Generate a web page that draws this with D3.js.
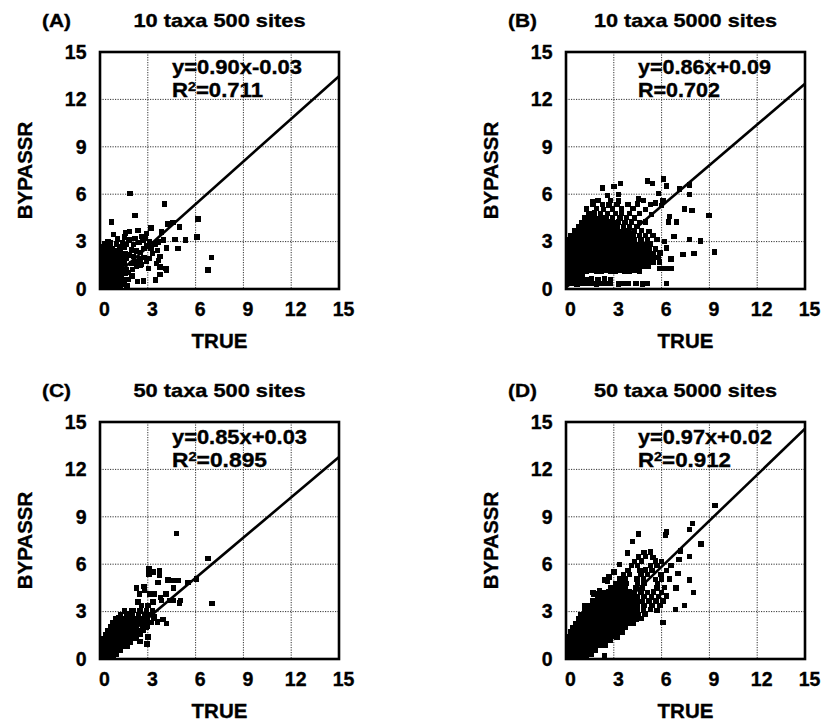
<!DOCTYPE html>
<html>
<head>
<meta charset="utf-8">
<script src="https://cdn.jsdelivr.net/npm/d3@7"></script>
<style>
  body { margin: 0; background: #fff; }
  svg { display: block; }
  text { font-family: "Liberation Sans", Arial, Helvetica, sans-serif; font-weight: bold; fill: #000; stroke: #000; stroke-width: 0.35px; }
</style>
</head>
<body>
<svg id="chart" width="821" height="724"></svg>
<script>
// ---- data -------------------------------------------------------------
const tickValues = [0, 3, 6, 9, 12, 15];
const gridValues = [3, 6, 9, 12];
const panelLetters = ["(A)", "(B)", "(C)", "(D)"];
const panelTitles = ["10 taxa 500 sites", "10 taxa 5000 sites", "50 taxa 500 sites", "50 taxa 5000 sites"];
const slopes = [0.90, 0.86, 0.85, 0.97];
const intercepts = [-0.03, 0.09, 0.03, 0.02];
const equationLabels = ["y=0.90x-0.03", "y=0.86x+0.09", "y=0.85x+0.03", "y=0.97x+0.02"];
const fitSymbols = ["R", "R", "R", "R"];
const fitPowers = ["2", "", "2", "2"];
const fitValues = ["0.711", "0.702", "0.895", "0.912"];
const xTitle = "TRUE";
const yTitle = "BYPASSR";

// (TRUE, BYPASSR) pairs, one list per panel
const pointsA = [
  [0.05,0.08],[0.25,0.04],[0.45,0.12],[0.65,0.05],[0.85,0.15],[1.05,0.08],[1.3,0.15],[1.55,0.3],
  [0.2,0.2],[0.6,0.25],[1.0,0.25],[0.4,0.5],[0.8,0.55],[1.25,0.5],[0.2,0.82],[0.6,0.85],[0.95,0.78],[1.2,0.9],
  [0.35,1.08],[0.8,1.05],[1.4,1.05],[0.2,1.62],[0.7,1.6],[1.2,1.5],[0.3,1.88],[0.85,1.85],[0.2,2.15],[0.75,2.12],
  [1.0,2.45],[0.45,2.5],[0.2,2.45],[0.65,2.9],[0.3,2.85],[1.3,2.7],[1.45,1.0],[1.5,0.6],[1.2,0.72],
  [0.12,0.35],[0.32,0.4],[0.52,0.32],[0.72,0.45],[0.95,0.4],[1.15,0.33],
  [0.05,0.62],[0.25,0.7],[0.45,0.6],[0.65,0.75],[0.85,0.66],[1.1,0.6],[1.35,0.82],
  [0.1,0.92],[0.35,0.96],[0.55,0.9],[0.75,1.0],[1.0,0.92],[1.58,0.98],
  [0.05,1.18],[0.25,1.22],[0.5,1.2],[0.7,1.26],[0.92,1.16],[1.2,1.12],[1.62,1.22],
  [0.15,1.46],[0.4,1.5],[0.62,1.45],[0.86,1.42],[1.1,1.36],[1.36,1.32],
  [0.05,1.76],[0.3,1.72],[0.55,1.76],[0.8,1.7],[1.05,1.66],[1.3,1.62],[1.52,1.6],
  [0.2,2.0],[0.45,2.02],[0.7,1.96],[0.95,1.95],[1.2,1.9],[1.45,1.86],[1.68,1.96],
  [0.1,2.3],[0.35,2.35],[0.6,2.26],[0.9,2.3],[1.12,2.2],[1.36,2.16],[1.6,2.26],[1.86,2.16],[2.1,2.06],
  [0.06,2.68],[0.3,2.6],[0.56,2.72],[0.8,2.56],[1.25,2.5],[1.5,2.62],[1.96,2.46],[2.3,2.4],[2.55,2.3],[2.76,2.56],[2.92,2.72],
  [1.05,2.86],[1.4,2.92],[1.66,2.8],[2.1,2.82],[2.45,2.96],[2.7,3.06],[2.86,3.22],[0.5,3.0],[1.82,3.1],[2.2,3.2],[2.6,3.32],[1.55,3.3],[1.1,3.16],
  [1.8,1.05],[2.05,1.25],[2.3,1.45],[2.0,1.6],[2.25,1.75],[2.5,1.9],[2.75,2.0],[1.75,0.6],[2.0,0.82],[2.6,1.55],[2.9,1.75],[3.1,1.92],
  [1.7,0.2],[2.37,0.47],[2.72,0.5],[3.49,0.57],[3.03,1.3],[2.5,1.51],[3.56,1.63],[3.77,2.05],[3.77,0.93],[4.14,1.3],[3.77,1.4],
  [3.3,2.25],[3.6,2.42],[3.2,2.6],[3.45,2.86],
  [1.88,6.05],[0.73,4.23],[2.2,4.64],[4.04,5.38],[0.84,3.44],[1.6,3.55],[1.86,3.65],[2.38,3.7],[2.9,3.5],[3.85,3.6],
  [4.27,4.12],[4.58,4.22],[5.0,3.92],[6.15,4.43],[6.1,3.3],[4.7,3.12],[5.36,3.1],[4.9,2.55],[4.16,2.6],[3.64,2.97],
  [6.99,1.99],[6.78,1.19],[4.16,1.2],[3.66,1.81],[3.1,3.0],[4.0,3.1],[3.2,3.85]
];

const pointsB = [
  [0.1,0.33],[0.4,0.35],[0.7,0.32],[1.0,0.34],[1.3,0.33],[1.6,0.35],[1.9,0.32],[2.2,0.34],[2.5,0.33],[2.8,0.35],[3.3,0.32],[3.6,0.34],[3.9,0.33],[4.4,0.35],[4.8,0.32],[5.1,0.34],
  [0.1,0.62],[0.4,0.64],[0.7,0.6],[1.0,0.63],[1.3,0.62],[1.6,0.65],[2.0,0.62],[2.4,0.64],[2.8,0.61],
  [0.1,0.9],[0.4,0.88],[0.7,0.92],[1.0,0.9],
  [0.1,1.15],[0.4,1.17],[0.7,1.13],[1.0,1.16],[1.3,1.14],[1.6,1.18],[1.9,1.15],[2.2,1.13],[2.5,1.17],[2.8,1.15],[3.1,1.14],[3.4,1.18],[3.7,1.15],[4.0,1.13],[4.3,1.17],[4.6,1.15],
  [5.9,1.28],[6.25,1.3],[6.6,1.28],
  [0.05,1.42],[0.35,1.44],[0.65,1.4],[0.95,1.43],[1.25,1.42],[1.55,1.45],[1.85,1.41],[2.15,1.43],[2.45,1.42],[2.75,1.44],[3.05,1.4],[3.35,1.43],[3.65,1.42],[3.95,1.45],[4.25,1.41],[4.55,1.43],[4.85,1.42],[5.15,1.44],
  [0.1,1.7],[0.4,1.72],[0.7,1.68],[1.0,1.71],[1.3,1.7],[1.6,1.73],[1.9,1.69],[2.2,1.71],[2.5,1.7],[2.8,1.72],[3.1,1.68],[3.4,1.71],[3.7,1.7],[4.0,1.73],[4.3,1.69],[4.6,1.71],[4.9,1.7],[5.2,1.72],[5.5,1.68],[5.85,1.71],
  [0.05,1.98],[0.35,2.0],[0.65,1.96],[0.95,1.99],[1.25,1.98],[1.55,2.01],[1.85,1.97],[2.15,1.99],[2.45,1.98],[2.75,2.0],[3.05,1.96],[3.35,1.99],[3.65,1.98],[3.95,2.01],[4.25,1.97],[4.55,1.99],[4.85,1.98],[5.15,2.0],[5.45,1.96],[5.8,1.99],
  [0.1,2.26],[0.4,2.28],[0.7,2.24],[1.0,2.27],[1.3,2.26],[1.6,2.29],[1.9,2.25],[2.2,2.27],[2.5,2.26],[2.8,2.28],[3.1,2.24],[3.4,2.27],[3.7,2.26],[4.0,2.29],[4.3,2.25],[4.6,2.27],[4.9,2.26],[5.2,2.28],[5.5,2.24],[5.9,2.27],
  [0.05,2.54],[0.35,2.56],[0.65,2.52],[0.95,2.55],[1.25,2.54],[1.55,2.57],[1.85,2.53],[2.15,2.55],[2.45,2.54],[2.75,2.56],[3.05,2.52],[3.35,2.55],[3.65,2.54],[3.95,2.57],[4.25,2.53],[4.55,2.55],[4.85,2.54],[5.2,2.56],[5.6,2.52],
  [0.1,2.82],[0.4,2.84],[0.7,2.8],[1.0,2.83],[1.3,2.82],[1.6,2.85],[1.9,2.81],[2.2,2.83],[2.5,2.82],[2.8,2.84],[3.1,2.8],[3.4,2.83],[3.7,2.82],[4.0,2.85],[4.3,2.81],[4.6,2.83],[4.95,2.82],[5.3,2.84],
  [0.05,3.1],[0.35,3.12],[0.65,3.08],[0.95,3.11],[1.25,3.1],[1.55,3.13],[1.85,3.09],[2.15,3.11],[2.45,3.1],[2.75,3.12],[3.05,3.08],[3.35,3.11],[3.65,3.1],[3.95,3.13],[4.3,3.09],[4.7,3.11],[5.1,3.1],[5.7,3.12],
  [0.3,3.38],[0.6,3.4],[0.9,3.36],[1.2,3.39],[1.5,3.38],[1.8,3.41],[2.1,3.37],[2.4,3.39],[2.7,3.38],[3.0,3.4],[3.3,3.36],[3.6,3.39],[3.9,3.38],[4.25,3.41],[4.6,3.37],[5.0,3.39],[5.45,3.38],
  [0.55,3.66],[0.85,3.68],[1.15,3.64],[1.45,3.67],[1.75,3.66],[2.05,3.69],[2.35,3.65],[2.65,3.67],[2.95,3.66],[3.25,3.68],[3.55,3.64],[3.9,3.67],[4.3,3.66],[4.75,3.69],[5.2,3.65],
  [0.8,3.94],[1.1,3.96],[1.4,3.92],[1.7,3.95],[2.0,3.94],[2.3,3.97],[2.6,3.93],[2.9,3.95],[3.25,3.94],[3.6,3.96],[4.0,3.92],[4.45,3.95],
  [1.0,4.22],[1.35,4.24],[1.65,4.2],[1.95,4.23],[2.25,4.22],[2.6,4.25],[2.95,4.21],[3.3,4.23],[3.7,4.22],[4.1,4.24],[4.6,4.2],[5.0,4.23],
  [1.2,4.5],[1.5,4.52],[1.85,4.48],[2.2,4.51],[2.55,4.5],[2.9,4.53],[3.4,4.49],[3.8,4.51],[4.3,4.5],
  [1.45,4.78],[1.8,4.8],[2.15,4.76],[2.6,4.79],[3.1,4.78],[3.5,4.81],[4.0,4.77],[4.6,4.79],[5.35,4.7],
  [1.3,5.06],[1.9,5.08],[2.35,5.04],[2.9,5.07],[3.5,5.06],[4.2,5.09],[5.0,5.05],
  [1.7,5.34],[2.3,5.36],[2.7,5.32],[3.2,5.35],[3.9,5.34],[4.5,5.37],[5.3,5.33],[5.6,5.45],
  [2.0,5.6],[2.8,5.62],[3.3,5.58],[4.54,5.69],[4.85,5.6],
  [2.3,6.38],[3.0,6.5],[3.43,6.67],[3.3,6.0],[5.13,6.84],[5.44,6.67],[6.11,6.95],[6.32,6.53],[5.8,6.05],[7.11,6.32],
  [7.74,6.57],[7.74,6.0],[7.43,5.07],[7.9,4.96],[8.98,4.65],[9.31,2.34],[8.45,3.03],[7.74,3.13],[8.03,2.24],[7.34,2.2],
  [6.78,3.33],[6.95,4.23],[6.43,4.23],[6.32,0.36],[6.1,5.58],[1.7,5.5],[6.0,5.3],[2.6,5.9],[6.3,2.6],[6.6,1.9],[6.2,3.0],[6.5,4.6]
];

const pointsC = [
  [0.05,0.05],[0.3,0.07],[0.55,0.04],[0.85,0.06],
  [0.05,0.3],[0.3,0.32],[0.55,0.28],[0.8,0.31],[1.05,0.3],
  [0.05,0.55],[0.3,0.57],[0.55,0.53],[0.8,0.56],[1.05,0.55],[1.3,0.57],
  [0.1,0.8],[0.35,0.82],[0.6,0.78],[0.85,0.81],[1.1,0.8],[1.4,0.82],[1.7,0.78],
  [0.1,1.05],[0.35,1.07],[0.6,1.03],[0.85,1.06],[1.1,1.05],[1.35,1.07],[1.6,1.03],[1.9,1.06],
  [0.15,1.3],[0.4,1.32],[0.65,1.28],[0.9,1.31],[1.15,1.3],[1.4,1.32],[1.7,1.28],[2.0,1.31],[2.3,1.3],
  [0.35,1.55],[0.6,1.57],[0.85,1.53],[1.1,1.56],[1.35,1.55],[1.6,1.57],[1.9,1.53],[2.2,1.56],[2.55,1.55],
  [0.5,1.8],[0.75,1.82],[1.0,1.78],[1.25,1.81],[1.5,1.8],[1.8,1.82],[2.1,1.78],[2.4,1.81],[2.7,1.8],
  [0.65,2.05],[0.9,2.07],[1.15,2.03],[1.4,2.06],[1.7,2.05],[2.0,2.07],[2.3,2.03],[2.65,2.06],[2.95,2.05],
  [0.8,2.3],[1.05,2.32],[1.3,2.28],[1.6,2.31],[1.9,2.3],[2.2,2.32],[2.5,2.28],[2.85,2.31],[3.2,2.3],
  [1.0,2.55],[1.3,2.57],[1.6,2.53],[1.9,2.56],[2.25,2.55],[2.6,2.57],[2.95,2.53],[3.4,2.56],
  [1.3,2.8],[1.65,2.82],[2.0,2.78],[2.4,2.81],[2.8,2.8],[3.15,2.82],
  [1.55,3.05],[2.0,3.07],[2.5,3.03],[2.9,3.06],[3.3,3.05],
  [4.79,7.93],[6.78,6.36],[7.03,3.5],[6.05,5.06],[5.52,4.85],[4.9,4.95],[4.58,4.98],[4.27,5.0],[3.74,5.58],[3.74,5.27],
  [3.64,4.85],[3.08,5.69],[3.08,5.38],[3.33,5.5],[2.28,4.5],[2.76,4.58],[2.8,4.33],[2.49,4.12],[3.12,4.12],[3.43,4.12],
  [4.14,4.12],[4.58,3.7],[5.0,3.54],[5.06,3.7],[4.37,3.7],[3.85,3.7],[3.33,3.6],[3.01,3.39],[2.6,3.39],[2.39,3.6],
  [2.07,3.08],[1.76,2.87],[1.34,2.55],[4.16,2.24],[3.95,2.49],[3.43,2.7],[3.01,1.4],[2.17,2.14],[2.39,2.45],[2.9,2.0],
  [3.6,2.35],[1.2,2.6],[0.6,1.55],[0.9,2.1],[3.8,3.9],[4.6,4.5],[2.95,0.95],[2.5,1.1]
];

const pointsD = [
  [0.05,0.05],[0.35,0.07],[0.65,0.04],[0.95,0.06],[1.25,0.05],
  [0.1,0.3],[0.4,0.32],[0.7,0.28],[1.0,0.31],[1.3,0.3],[1.6,0.32],[2.43,0.2],
  [0.05,0.58],[0.35,0.6],[0.65,0.56],[0.95,0.59],[1.25,0.58],[1.55,0.61],[1.85,0.57],
  [0.1,0.86],[0.4,0.88],[0.7,0.84],[1.0,0.87],[1.3,0.86],[1.6,0.89],[1.9,0.85],[2.2,0.87],[2.45,0.86],
  [0.05,1.14],[0.35,1.16],[0.65,1.12],[0.95,1.15],[1.25,1.14],[1.55,1.17],[1.85,1.13],[2.15,1.15],[2.45,1.14],[2.75,1.16],
  [0.2,1.42],[0.5,1.44],[0.8,1.4],[1.1,1.43],[1.4,1.42],[1.7,1.45],[2.0,1.41],[2.3,1.43],[2.6,1.42],[2.9,1.44],[3.2,1.4],
  [0.3,1.7],[0.6,1.72],[0.9,1.68],[1.2,1.71],[1.5,1.7],[1.8,1.73],[2.1,1.69],[2.4,1.71],[2.7,1.7],[3.0,1.72],[3.3,1.68],[3.55,1.71],
  [0.45,1.98],[0.75,2.0],[1.05,1.96],[1.35,1.99],[1.65,1.98],[1.95,2.01],[2.25,1.97],[2.55,1.99],[2.85,1.98],[3.15,2.0],[3.45,1.96],[3.75,1.99],
  [0.6,2.26],[0.9,2.28],[1.2,2.24],[1.5,2.27],[1.8,2.26],[2.1,2.29],[2.4,2.25],[2.7,2.27],[3.0,2.26],[3.3,2.28],[3.6,2.24],[3.9,2.27],[4.25,2.26],
  [0.8,2.54],[1.1,2.56],[1.4,2.52],[1.7,2.55],[2.0,2.54],[2.3,2.57],[2.6,2.53],[2.9,2.55],[3.2,2.54],[3.5,2.56],[3.8,2.52],[4.1,2.55],[4.4,2.54],[4.7,2.56],
  [0.95,2.82],[1.25,2.84],[1.55,2.8],[1.85,2.83],[2.15,2.82],[2.45,2.85],[2.75,2.81],[3.05,2.83],[3.35,2.82],[3.65,2.84],[3.95,2.8],[4.25,2.83],[4.55,2.82],[4.95,2.84],
  [1.2,3.1],[1.5,3.12],[1.8,3.08],[2.1,3.11],[2.4,3.1],[2.7,3.13],[3.0,3.09],[3.3,3.11],[3.6,3.1],[3.9,3.12],[4.2,3.08],[4.5,3.11],[4.85,3.1],[5.3,3.12],[5.7,3.08],
  [1.45,3.38],[1.75,3.4],[2.05,3.36],[2.35,3.39],[2.65,3.38],[2.95,3.41],[3.25,3.37],[3.55,3.39],[3.85,3.38],[4.15,3.4],[4.5,3.36],[4.9,3.39],[5.4,3.38],[5.9,3.4],
  [1.7,3.66],[2.0,3.68],[2.3,3.64],[2.6,3.67],[2.9,3.66],[3.2,3.69],[3.5,3.65],[3.8,3.67],[4.1,3.66],[4.45,3.68],[4.8,3.64],[5.2,3.67],[5.65,3.66],[6.1,3.68],
  [2.0,3.94],[2.3,3.96],[2.6,3.92],[2.9,3.95],[3.2,3.94],[3.5,3.97],[3.8,3.93],[4.15,3.95],[4.5,3.94],[4.9,3.96],[5.35,3.92],[5.8,3.95],[6.3,3.94],
  [2.4,4.22],[2.7,4.24],[3.0,4.2],[3.3,4.23],[3.6,4.22],[3.95,4.25],[4.3,4.21],[4.7,4.23],[5.1,4.22],[5.5,4.24],[6.0,4.2],
  [2.8,4.5],[3.1,4.52],[3.4,4.48],[3.7,4.51],[4.4,4.53],[4.8,4.49],[5.7,4.5],[6.2,4.52],
  [3.1,4.78],[3.45,4.8],[3.8,4.76],[4.5,4.78],[4.9,4.81],[5.75,4.79],
  [3.4,5.06],[3.75,5.08],[4.45,5.07],[4.85,5.06],[5.6,5.05],[6.0,5.07],[6.5,5.06],
  [3.6,5.34],[4.0,5.36],[4.7,5.35],[5.1,5.34],[5.95,5.33],
  [3.9,5.62],[4.65,5.6],[5.0,5.63],[5.4,5.62],[6.3,5.61],
  [4.1,5.9],[4.5,5.92],[5.3,5.91],[5.7,5.9],
  [4.3,6.18],[4.75,6.2],[5.6,6.19],[6.0,6.18],
  [4.55,6.46],[5.0,6.48],[5.45,6.44],
  [4.9,6.74],[5.3,6.76],
  [9.35,9.73],[7.95,8.56],[7.74,8.2],[8.47,7.27],[6.32,8.05],[6.26,7.84],[4.54,7.9],[4.19,7.44],[3.85,6.7],[3.34,6.0],
  [2.43,5.0],[1.7,4.2],[2.1,4.3],[7.74,6.5],[7.74,5.0],[8.0,4.2],[7.45,3.38],[6.86,3.12],[6.1,2.3],[7.1,6.3],
  [7.19,6.83],[7.04,5.4],[6.6,5.9],[6.32,4.0],[1.2,3.35],[2.7,5.2],[3.0,5.5],[6.9,4.5],[2.59,4.92],[1.76,4.12]
];

const panelPoints = [pointsA, pointsB, pointsC, pointsD];

// ---- layout -----------------------------------------------------------
const lefts = [100, 566, 100, 566];
const tops = [52, 52, 422, 422];
const W = 239, H = 237;
const markerSize = 5.4;
const titleWidths = [172, 183, 172, 183];
const equationWidths = [130, 133, 135, 134];
const fitWidths = [91, 82, 95, 93];

const svg = d3.select("#chart");
svg.append("rect").attr("width", 821).attr("height", 724).attr("fill", "#fff");

const x = d3.scaleLinear().domain([0, 15]).range([0, W]);
const y = d3.scaleLinear().domain([0, 15]).range([H, 0]);

panelPoints.forEach((pts, i) => {
  const g = svg.append("g").attr("transform", `translate(${lefts[i]},${tops[i]})`);

  const clipId = `clip${i}`;
  g.append("clipPath").attr("id", clipId)
    .append("rect").attr("width", W).attr("height", H);

  // dotted grid
  const grid = g.append("g").attr("stroke", "#333").attr("stroke-width", 1)
    .attr("stroke-dasharray", "1.2,1.3");
  grid.selectAll("line.v").data(gridValues).join("line").attr("class", "v")
    .attr("x1", d => x(d)).attr("x2", d => x(d)).attr("y1", 0).attr("y2", H);
  grid.selectAll("line.h").data(gridValues).join("line").attr("class", "h")
    .attr("y1", d => y(d)).attr("y2", d => y(d)).attr("x1", 0).attr("x2", W);

  // scatter markers
  g.append("g").attr("clip-path", `url(#${clipId})`)
    .attr("shape-rendering", "crispEdges")
    .selectAll("rect").data(pts).join("rect")
    .attr("x", d => x(d[0]) - markerSize / 2)
    .attr("y", d => y(d[1]) - markerSize / 2)
    .attr("width", markerSize).attr("height", markerSize)
    .attr("fill", "#000");

  // regression line
  const fit = [0, 15].map(v => [v, slopes[i] * v + intercepts[i]]);
  g.append("path").attr("clip-path", `url(#${clipId})`)
    .datum(fit)
    .attr("d", d3.line().x(d => x(d[0])).y(d => y(d[1])))
    .attr("fill", "none").attr("stroke", "#000").attr("stroke-width", 2.6);

  // frame
  g.append("rect").attr("width", W).attr("height", H)
    .attr("fill", "none").attr("stroke", "#000").attr("stroke-width", 2.6);

  // axes
  const yAxis = g.append("g")
    .call(d3.axisLeft(y).tickValues(tickValues).tickSize(0).tickPadding(13.5));
  const xAxis = g.append("g").attr("transform", `translate(0,${H})`)
    .call(d3.axisBottom(x).tickValues(tickValues).tickSize(0).tickPadding(13.5));
  [yAxis, xAxis].forEach(a => {
    a.select(".domain").remove();
    a.attr("font-size", 19.5).attr("font-family", null);
    a.selectAll("text").style("font-weight", "bold").attr("fill", "#000");
  });
  xAxis.selectAll("text").attr("dx", 4);

  // axis titles
  g.append("text").attr("x", W / 2).attr("y", H + 59)
    .attr("text-anchor", "middle").attr("font-size", 20.5).text(xTitle);
  g.append("text").attr("transform", `translate(-76,${H / 2}) rotate(-90)`)
    .attr("text-anchor", "middle").attr("dominant-baseline", "central")
    .attr("font-size", 20.5).text(yTitle);

  // panel letter and title
  g.append("text").attr("x", -58).attr("y", -25.5)
    .attr("font-size", 18).attr("textLength", 29).attr("lengthAdjust", "spacingAndGlyphs")
    .text(panelLetters[i]);
  g.append("text").attr("x", W / 2 - titleWidths[i] / 2).attr("y", -25.5)
    .attr("font-size", 18.5)
    .attr("textLength", titleWidths[i]).attr("lengthAdjust", "spacingAndGlyphs")
    .text(panelTitles[i]);

  // fit equation and coefficient
  g.append("text").attr("x", 72).attr("y", 22)
    .attr("font-size", 19.5)
    .attr("textLength", equationWidths[i]).attr("lengthAdjust", "spacingAndGlyphs")
    .text(equationLabels[i]);
  const fitText = g.append("text").attr("x", 72).attr("y", 45)
    .attr("font-size", 19.5)
    .attr("textLength", fitWidths[i]).attr("lengthAdjust", "spacingAndGlyphs");
  fitText.append("tspan").text(fitSymbols[i]);
  if (fitPowers[i]) {
    fitText.append("tspan").attr("font-size", 12.5).attr("dy", -6).text(fitPowers[i]);
    fitText.append("tspan").attr("dy", 6).text("=" + fitValues[i]);
  } else {
    fitText.append("tspan").text("=" + fitValues[i]);
  }
});
</script>
</body>
</html>
